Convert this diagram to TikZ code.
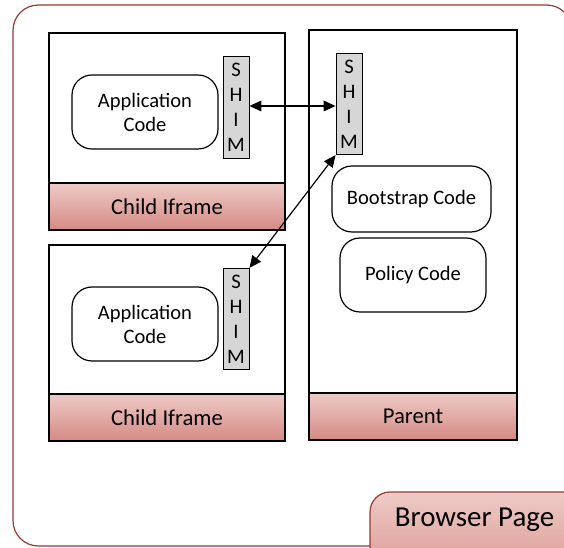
\documentclass[tikz,border=0pt]{standalone}
\usepackage{fontspec}
\setmainfont{Carlito}
\usetikzlibrary{arrows.meta}

\definecolor{bandtop}{RGB}{238,202,198}
\definecolor{bandbot}{RGB}{213,138,132}
\definecolor{pageframe}{RGB}{150,58,52}

\tikzset{every picture/.style={line width=0.75pt}}
\tikzset{
  frame/.style={draw, line width=1.1pt},
  band/.style={draw, line width=1.1pt, top color=bandtop, bottom color=bandbot,
    minimum width=177pt, minimum height=35.25pt, font=\fontsize{17}{20}\selectfont},
  codebox/.style={draw, line width=0.9pt, rounded corners=15pt, align=center,
    fill=white, font=\fontsize{15.4}{18}\selectfont},
  shimbox/.style={draw, line width=0.6pt, fill=black!16, align=center, inner sep=0pt,
    minimum width=19.5pt, minimum height=76pt, font=\fontsize{15.5}{18.75}\selectfont},
  link/.style={{Triangle[length=9pt,width=8pt]}-{Triangle[length=9pt,width=8pt]}, line width=0.9pt}
}

\begin{document}
\begin{tikzpicture}[x=0.75pt,y=0.75pt,yscale=-1,xscale=1]
\useasboundingbox (0,0) rectangle (564,548);
\clip (0,0) rectangle (564,548);

%Browser page frame
\draw [color=pageframe, line width=0.9pt, rounded corners=19pt] (13,5) rectangle (572,546);
%Browser page tab
\draw [color=pageframe, line width=0.9pt, rounded corners=15pt, top color=bandtop, bottom color=bandbot] (370,600) -- (370,492) -- (600,492) -- (600,600) ;
\node (page) at (474.5,520) [font=\fontsize{21.7}{25}\selectfont] {Browser Page};

%Child iframe (top)
\draw [frame] (49,33) rectangle (285,230);
\node [band] (band1) at (167,206.5) {Child Iframe};
\node [codebox, minimum width=109.5pt, minimum height=55.5pt] (app1) at (145,112) {Application\\Code};
\node [shimbox] (shim1) at (236,107.5) {S\\H\\I\\M};

%Child iframe (bottom)
\draw [frame] (49,245) rectangle (285,441);
\node [band] (band2) at (167,417.5) {Child Iframe};
\node [codebox, minimum width=109.5pt, minimum height=55.5pt] (app2) at (145,324) {Application\\Code};
\node [shimbox] (shim3) at (236,319) {S\\H\\I\\M};

%Parent
\draw [frame] (309,30) rectangle (517,440);
\node [band, minimum width=156pt] (band3) at (413,416.5) {Parent};
\node [shimbox] (shim2) at (349,104) {S\\H\\I\\M};
\node [codebox, minimum width=119.25pt, minimum height=49.5pt] (boot) at (411.5,199) {Bootstrap Code};
\node [codebox, minimum width=109.5pt, minimum height=55.5pt] (policy) at (413,275) {Policy Code};

%Messages between shims
\draw [link] (shim1.east |- 0,106) -- (shim2.west |- 0,106) ;
\draw [link] (shim3.north east) -- (shim2.south west) ;

\end{tikzpicture}
\end{document}
